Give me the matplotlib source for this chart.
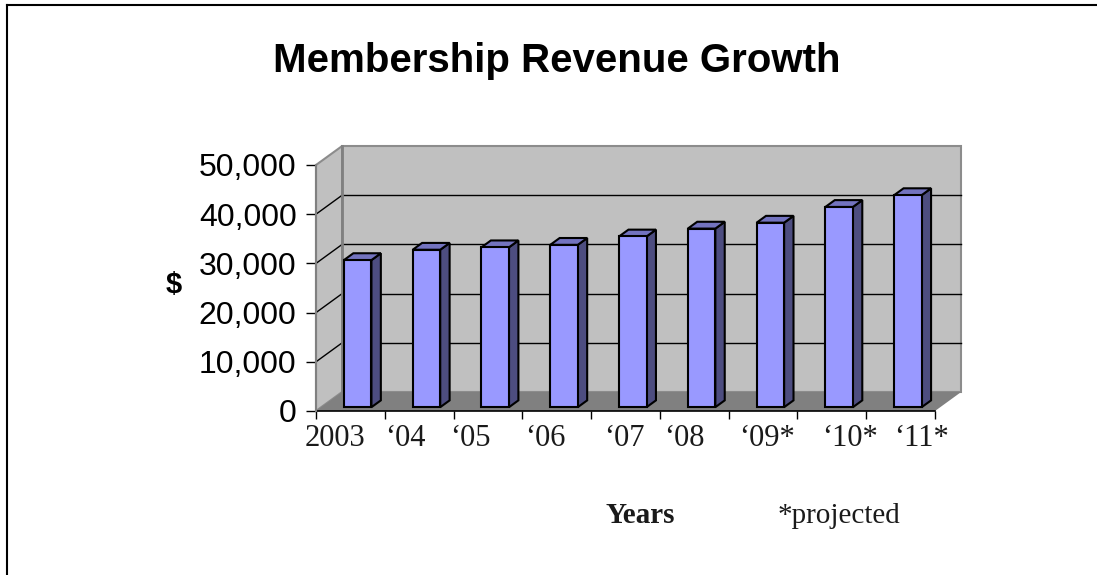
import matplotlib
matplotlib.use("Agg")
import matplotlib.pyplot as plt
from matplotlib.patches import Polygon
from matplotlib.lines import Line2D

# --- data ---
years = ["2003", "\u201804", "\u201805", "\u201806", "\u201807", "\u201808",
         "\u201809*", "\u201810*", "\u201811*"]
revenue = [29900, 32000, 32500, 33000, 34700, 36300, 37500, 40700, 43100]
y_ticks = [0, 10000, 20000, 30000, 40000, 50000]
y_max = 50000

# --- look ---
FRONT = "#9999ff"
SIDE = "#4d4d80"
TOP = "#7373bf"
WALL = "#c0c0c0"
FLOOR = "#808080"
SANS = "Liberation Sans"
SERIF = "Liberation Serif"

# oblique depth offset of the back wall (in data units)
DX = 0.38
DY = 3860
Z0, Z1 = 0.20, 0.56          # bar front / back depth (fraction of DX, DY)
BAR_L, BAR_W = 0.33, 0.40    # bar position inside a category
# small nudges so the labels sit like in the original
label_nudge = [-0.22, -0.20, -0.25, -0.17, -0.02, -0.15, 0.06, 0.27, 0.30]

fig = plt.figure(figsize=(10.97, 5.75), dpi=100)
ax = fig.add_axes([316 / 1097, 164 / 575, 619 / 1097, 246 / 575])
n = len(years)
ax.set_xlim(0, n)
ax.set_ylim(0, y_max)
for s in ax.spines.values():
    s.set_visible(False)
ax.patch.set_visible(False)


def poly(pts, fc, ec="none", lw=0, z=1):
    ax.add_patch(Polygon(pts, closed=True, facecolor=fc, edgecolor=ec,
                         linewidth=lw, zorder=z, clip_on=False))


# walls and floor
poly([(DX, DY), (n + DX, DY), (n + DX, y_max + DY), (DX, y_max + DY)],
     WALL, ec="#8c8c8c", lw=1.5, z=1)
poly([(0, 0), (DX, DY), (DX, y_max + DY), (0, y_max)], WALL,
     ec="#8c8c8c", lw=1.5, z=1)
poly([(0, 0), (n, 0), (n + DX, DY), (DX, DY)], FLOOR, z=2)

# gridlines on back wall and side wall
for v in y_ticks[1:-1]:
    ax.plot([DX, n + DX], [v + DY, v + DY], color="black", lw=1, zorder=1.5,
            clip_on=False)
    ax.plot([0, DX], [v, v + DY], color="black", lw=1, zorder=1.5,
            clip_on=False)
ax.plot([DX, DX], [DY, y_max + DY], color="#808080", lw=2, zorder=1.6,
        clip_on=False)

# bars
for i, v in enumerate(revenue):
    x0 = i + BAR_L
    x1 = x0 + BAR_W
    fx, fy = Z0 * DX, Z0 * DY
    bx, by = Z1 * DX, Z1 * DY
    kw = dict(ec="black", lw=1.5, z=3)
    poly([(x1 + fx, fy), (x1 + bx, by), (x1 + bx, v + by), (x1 + fx, v + fy)],
         SIDE, **kw)
    poly([(x0 + fx, v + fy), (x1 + fx, v + fy), (x1 + bx, v + by),
          (x0 + bx, v + by)], TOP, **kw)
    poly([(x0 + fx, fy), (x1 + fx, fy), (x1 + fx, v + fy), (x0 + fx, v + fy)],
         FRONT, **kw)

# front edges
ax.plot([0, n], [0, 0], color="black", lw=1.2, zorder=4, clip_on=False)
ax.plot([0, 0], [0, y_max], color="#808080", lw=1.5, zorder=4, clip_on=False)

# axes ticks
ax.set_yticks(y_ticks)
ax.set_yticklabels([f"{t:,}" for t in y_ticks], fontsize=23, family=SANS)
ax.tick_params(axis="y", length=7, width=1, direction="out", pad=7)
ax.set_xticks(range(n + 1))
ax.set_xticklabels([])
ax.tick_params(axis="x", length=6, width=1, direction="out")

for i, lab in enumerate(years):
    ax.annotate(lab, xy=(i + 0.5 + label_nudge[i], 0), xytext=(0, -25),
                textcoords="offset points", ha="center", va="baseline",
                fontsize=22, family=SERIF, color="#1a1a1a")

# texts
fig.text(557 / 1097, 1 - 72 / 575, "Membership Revenue Growth", ha="center",
         va="baseline", fontsize=29, fontweight="bold", family=SANS)
fig.text(174 / 1097, 1 - 285 / 575, "$", ha="center", va="center",
         fontsize=21, fontweight="bold", family=SANS)
fig.text(640 / 1097, 1 - 523 / 575, "Years", ha="center", va="baseline",
         fontsize=21, fontweight="bold", family=SERIF, color="#1a1a1a")
fig.text(839 / 1097, 1 - 523 / 575, "*projected", ha="center", va="baseline",
         fontsize=21, family=SERIF, color="#1a1a1a")

# outer frame (top and left only)
fig.add_artist(Line2D([7 / 1097, 1], [1 - 5 / 575, 1 - 5 / 575],
                      color="black", lw=1.5, transform=fig.transFigure))
fig.add_artist(Line2D([7 / 1097, 7 / 1097], [0, 1 - 5 / 575],
                      color="black", lw=1.5, transform=fig.transFigure))

fig.savefig("out.png", dpi=100)
